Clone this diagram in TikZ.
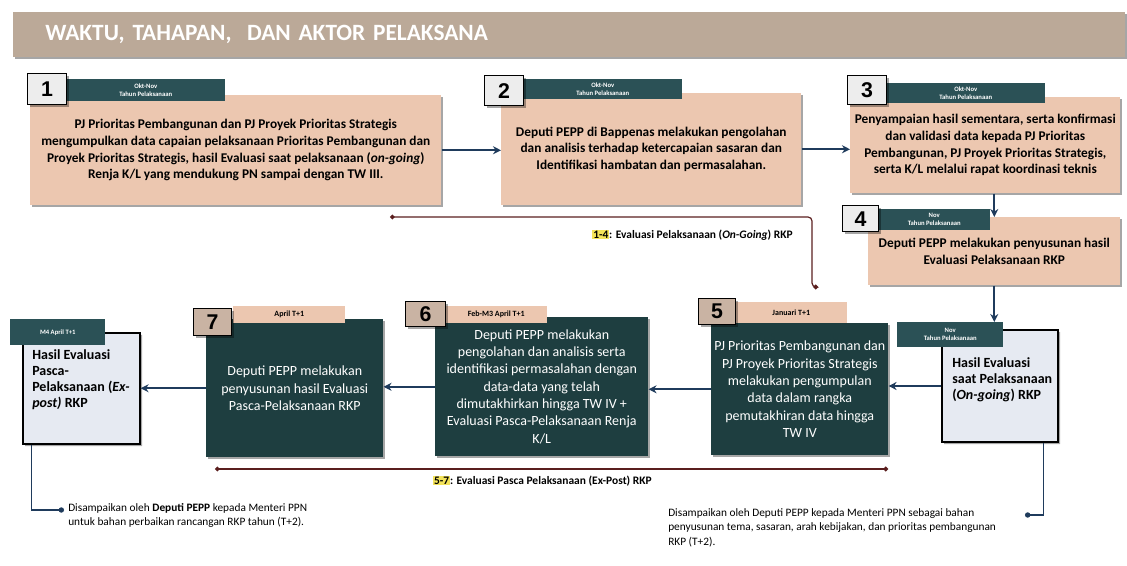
\documentclass[tikz,border=0pt]{standalone}
\usepackage{fontspec}
\setmainfont{Carlito}
\newfontfamily\numfont{Liberation Sans}
\usepackage{tikz}
\usetikzlibrary{arrows.meta, shapes.misc, shadows, positioning}

\definecolor{barbg}{HTML}{BBA998}
\definecolor{pinkbg}{HTML}{ECC7B0}
\definecolor{tealbg}{HTML}{1E3E40}
\definecolor{tagbg}{HTML}{2B5156}
\definecolor{numgray}{HTML}{EDEDED}
\definecolor{numtan}{HTML}{C9B3A3}
\definecolor{docbg}{HTML}{E6EAF2}
\definecolor{arrblue}{HTML}{1F3B5C}
\definecolor{brkred}{HTML}{5A1E1E}
\definecolor{hlyellow}{HTML}{F3E35A}

\newcommand{\pxs}{0.75pt}
\newcommand{\hlt}[1]{{\setlength{\fboxsep}{0.6pt}\colorbox{hlyellow}{#1}}}

\tikzset{
    sized/.style 2 args={minimum width=#1*\pxs, minimum height=#2*\pxs, inner sep=0pt, anchor=north west},
    shade/.style={drop shadow={shadow xshift=1.5pt, shadow yshift=-1.5pt, opacity=0.35, fill=black}},
    titlebar/.style={sized={1112}{45}, inner xsep=32*\pxs, text width=1048*\pxs, align=left,
        fill=barbg, text=white, font=\bfseries\fontsize{17.5}{19}\selectfont, shade},
    pinkbox/.style={fill=pinkbg, align=center, font=\bfseries\fontsize{10}{12.5}\selectfont, shade},
    darkbox/.style={fill=tealbg, text=white, align=center, font=\fontsize{10.5}{13}\selectfont, shade},
    toptag/.style={fill=tagbg, text=white, align=center, font=\bfseries\fontsize{5}{6}\selectfont},
    lowtag/.style={fill=pinkbg, align=center, font=\bfseries\fontsize{6}{7}\selectfont},
    numbox/.style={fill=numgray, draw=black, line width=1pt, font=\numfont\bfseries\fontsize{16}{16}\selectfont, shade},
    numtanbox/.style={numbox, fill=numtan},
    docbox/.style={chamfered rectangle, chamfered rectangle corners=north east,
        chamfered rectangle xsep=14pt, chamfered rectangle ysep=14pt,
        fill=docbg, draw=black, line width=0.9pt, shade},
    doctext/.style={inner sep=0pt, align=left, font=\bfseries\fontsize{10.5}{12}\selectfont},
    arr/.style={draw=arrblue, line width=1.5pt, -{Stealth[length=6pt, width=6pt]}},
    brk/.style={draw=brkred, line width=0.9pt, {Circle[length=3.5pt]}-{Circle[length=3.5pt]}},
    brklabel/.style={inner sep=0pt, font=\bfseries\fontsize{8.6}{10}\selectfont},
    fnline/.style={draw=arrblue, line width=0.9pt, -{Circle[length=4pt]}},
    fntext/.style={inner sep=0pt, align=left, font=\fontsize{8.5}{11}\selectfont}
}

\begin{document}
\begin{tikzpicture}[x=\pxs, y=-\pxs]
\useasboundingbox (0,0) rectangle (1127,566);

\node[titlebar] (ttl) at (13,12) {WAKTU, TAHAPAN,\ \ DAN AKTOR PELAKSANA};

% langkah 1-4
\node[pinkbox, sized={411}{110}] (b1) at (30,95) {PJ Prioritas Pembangunan dan PJ Proyek Prioritas Strategis\\
    mengumpulkan data capaian pelaksanaan Prioritas Pembangunan dan\\
    Proyek Prioritas Strategis, hasil Evaluasi saat pelaksanaan (\textit{on-going})\\
    Renja K/L yang mendukung PN sampai dengan TW III.};
\node[pinkbox, sized={300}{112}] (b2) at (501,93) {Deputi PEPP di Bappenas melakukan pengolahan\\
    dan analisis terhadap ketercapaian sasaran dan\\
    Identifikasi hambatan dan permasalahan.};
\node[pinkbox, sized={270}{96}] (b3) at (850,97) {Penyampaian hasil sementara, serta konfirmasi\\
    dan validasi data kepada PJ Prioritas\\
    Pembangunan, PJ Proyek Prioritas Strategis,\\
    serta K/L melalui rapat koordinasi teknis};
\node[pinkbox, sized={252}{68}] (b4) at (868,217) {Deputi PEPP melakukan penyusunan hasil\\
    Evaluasi Pelaksanaan RKP};

\node[toptag, sized={159}{22}] (t1) at (66,79) {Okt-Nov\\Tahun Pelaksanaan};
\node[toptag, sized={159}{20}] (t2) at (523,79) {Okt-Nov\\Tahun Pelaksanaan};
\node[toptag, sized={159}{20}] (t3) at (886,83) {Okt-Nov\\Tahun Pelaksanaan};
\node[toptag, sized={112}{21}] (t4) at (878,209) {Nov\\Tahun Pelaksanaan};

\node[numbox, sized={39}{31}] (n1) at (27,73) {1};
\node[numbox, sized={39}{30}] (n2) at (484,75) {2};
\node[numbox, sized={39}{29}] (n3) at (847,75) {3};
\node[numbox, sized={36}{26}] (n4) at (842,205) {4};

% langkah 5-7
\node[darkbox, sized={177}{132}] (b5) at (711,323) {PJ Prioritas Pembangunan dan\\
    PJ Proyek Prioritas Strategis\\
    melakukan pengumpulan\\
    data dalam rangka\\
    pemutakhiran data hingga\\
    TW IV};
\node[darkbox, sized={213}{139}] (b6) at (435,317) {Deputi PEPP melakukan\\
    pengolahan dan analisis serta\\
    identifikasi permasalahan dengan\\
    data-data yang telah\\
    dimutakhirkan hingga TW IV +\\
    Evaluasi Pasca-Pelaksanaan Renja\\
    K/L};
\node[darkbox, sized={177}{138}] (b7) at (206,319) {Deputi PEPP melakukan\\
    penyusunan hasil Evaluasi\\
    Pasca-Pelaksanaan RKP};

\node[lowtag, sized={112}{21}] (t5) at (735,302) {Januari T+1};
\node[lowtag, sized={102}{17}] (t6) at (445,306) {Feb-M3 April T+1};
\node[lowtag, sized={112}{17}] (t7) at (233,306) {April T+1};

\node[numtanbox, sized={37}{26}] (n5) at (698,298) {5};
\node[numtanbox, sized={40}{25}] (n6) at (405,301) {6};
\node[numtanbox, sized={38}{27}] (n7) at (193,308) {7};

% hasil evaluasi
\node[docbox, sized={116}{112}, anchor=center] (d1) at (1000,386) {};
\node[docbox, sized={117}{111}, anchor=center] (d2) at (81.5,388.5) {};
\node[doctext, anchor=north west] (d1txt) at (952,357) {Hasil Evaluasi\\saat Pelaksanaan\\(\textit{On-going}) RKP};
\node[doctext, anchor=north west] (d2txt) at (32,349) {Hasil Evaluasi\\Pasca-\\Pelaksanaan (\textit{Ex-}\\\textit{post)} RKP};
\node[toptag, sized={106}{25}] (t8) at (897,322) {Nov\\Tahun Pelaksanaan};
\node[toptag, sized={95}{26}] (t9) at (10,319) {M4 April T+1};

% alur
\draw[arr] (b1.east) -- (b1.east -| b2.west);
\draw[arr] (b2.east) -- (b2.east -| b3.west);
\draw[arr] (b4.north |- b3.south) -- (b4.north);
\draw[arr] (b4.south) -- (b4.south |- t8.north);
\draw[arr] (d1.west) -- (d1.west -| b5.east);
\draw[arr] (b5.west) -- (b5.west -| b6.east);
\draw[arr] (b6.west) -- (b6.west -| b7.east);
\draw[arr] (b7.west) -- (b7.west -| d2.east);

% rentang tahap
\coordinate (s14) at (390,217);
\coordinate (e14) at (818,287);
\draw[brk, rounded corners=3pt] (s14) -- (812,217) |- (e14);
\node[brklabel, anchor=east] (l14) at (793,235) {\hlt{1-4}: Evaluasi Pelaksanaan (\textit{On-Going}) RKP};
\coordinate (s57) at (215,469);
\coordinate (e57) at (888,469);
\draw[brk] (s57) -- (e57);
\node[brklabel, anchor=west] (l57) at (433,481) {\hlt{5-7}: Evaluasi Pasca Pelaksanaan (Ex-Post) RKP};

% catatan
\coordinate (f1) at (64,510);
\draw[fnline] ([xshift=9*\pxs]d2.south west) |- (f1);
\node[fntext, anchor=north west] (fn1) at (68,503) {Disampaikan oleh \textbf{Deputi PEPP} kepada Menteri PPN\\
    untuk bahan perbaikan rancangan RKP tahun (T+2).};
\coordinate (f2) at (1025,515);
\draw[fnline] ([xshift=-15*\pxs]d1.south east) |- (f2);
\node[fntext, anchor=north west] (fn2) at (668,508) {Disampaikan oleh Deputi PEPP kepada Menteri PPN sebagai bahan\\
    penyusunan tema, sasaran, arah kebijakan, dan prioritas pembangunan\\
    RKP (T+2).};
\end{tikzpicture}
\end{document}
